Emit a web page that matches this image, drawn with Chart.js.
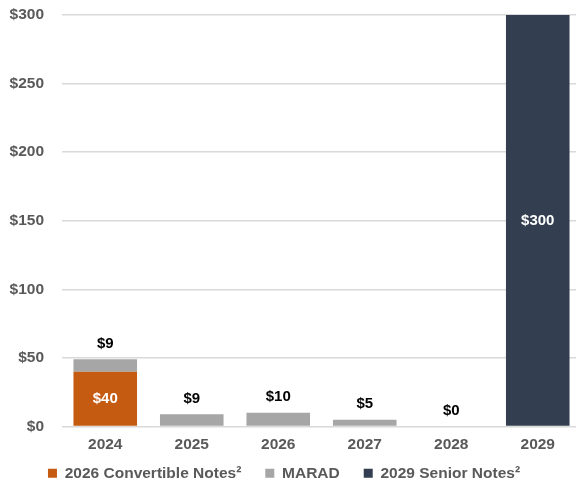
<!DOCTYPE html>
<html>
<head>
<meta charset="utf-8">
<script src="https://cdn.jsdelivr.net/npm/chart.js@4"></script>
<style>
  html, body { margin: 0; padding: 0; background: #fff; }
  #wrap { width: 576px; height: 486px; }
</style>
</head>
<body>
<div id="wrap"><canvas id="debtChart" width="576" height="486"></canvas></div>
<script>
// Maturity years and amounts ($M)
const years = ['2024', '2025', '2026', '2027', '2028', '2029'];
const convertibleNotes = [40, 0, 0, 0, 0, 0];
const maradNotes = [9, 9, 10, 5, 0, 0];
const seniorNotes = [0, 0, 0, 0, 0, 300];
const yTicks = [0, 50, 100, 150, 200, 250, 300];

const tickGray = '#595959';
const fontFam = 'Arial, "Liberation Sans", sans-serif';

// Simple value labels: MARAD above the stack, other series inside their bar
const valueLabels = {
    id: 'valueLabels',
    afterDatasetsDraw(chart) {
        const ctx = chart.ctx;
        ctx.save();
        ctx.font = 'bold 15px ' + fontFam;
        ctx.textAlign = 'center';
        chart.data.datasets.forEach((ds, i) => {
            const meta = chart.getDatasetMeta(i);
            meta.data.forEach((bar, j) => {
                const v = ds.data[j];
                if (ds.label === 'MARAD') {
                    if (years[j] === '2029') return;
                    ctx.fillStyle = '#000';
                    ctx.textBaseline = 'bottom';
                    ctx.fillText('$' + v, bar.x, bar.y - 8);
                } else if (v > 0) {
                    ctx.fillStyle = '#fff';
                    ctx.textBaseline = 'middle';
                    ctx.fillText('$' + v, bar.x, (bar.y + bar.base) / 2);
                }
            });
        });
        ctx.restore();
    }
};

// The original plot runs a few px past the right edge, and the year labels
// sit partly inside the legend band, so stretch the x scale after layout
const layoutTweak = {
    id: 'layoutTweak',
    afterLayout(chart) {
        const x = chart.scales.x;
        x.right = chart.chartArea.right = chart.width + 5;
        x.width = chart.chartArea.width = x.right - x.left;
        x.bottom = chart.height;
        x.height = x.bottom - x.top;
        x.configure();
        // legend row sits a little left of centre in the original
        chart.legend.left -= 4;
        chart.legend.right -= 4;
    }
};

new Chart(document.getElementById('debtChart'), {
    type: 'bar',
    data: {
        labels: years,
        datasets: [
            { label: '2026 Convertible Notes²', data: convertibleNotes, backgroundColor: '#C55A11' },
            { label: 'MARAD', data: maradNotes, backgroundColor: '#A6A6A6' },
            { label: '2029 Senior Notes²', data: seniorNotes, backgroundColor: '#333F50' }
        ]
    },
    options: {
        responsive: false,
        animation: false,
        layout: { padding: { left: 0, right: 0, top: 0, bottom: -5 } },
        datasets: { bar: { categoryPercentage: 0.735, barPercentage: 1 } },
        scales: {
            x: {
                stacked: true,
                grid: { display: false },
                border: { display: false },
                afterFit(axis) { axis.height = 15; },
                ticks: { color: tickGray, font: { family: fontFam, size: 15.5, weight: 'bold' }, padding: 1 }
            },
            y: {
                stacked: true,
                min: 0,
                max: 300,
                afterBuildTicks(axis) { axis.ticks = yTicks.map(v => ({ value: v })); },
                afterFit(axis) {
                    axis.width = 62;
                    axis.paddingTop = 15;
                    axis.paddingBottom = 0;
                },
                grid: { color: '#D9D9D9', lineWidth: 1.5, drawTicks: false },
                border: { display: false },
                ticks: {
                    color: tickGray,
                    padding: 18,
                    font: { family: fontFam, size: 15.5, weight: 'bold' },
                    callback: v => '$' + v
                }
            }
        },
        plugins: {
            legend: {
                position: 'bottom',
                labels: {
                    color: tickGray,
                    font: { family: fontFam, size: 15.5, weight: 'bold' },
                    boxWidth: 9,
                    boxHeight: 9,
                    padding: 24
                }
            },
            tooltip: { enabled: false }
        }
    },
    plugins: [valueLabels, layoutTweak]
});
</script>
</body>
</html>
